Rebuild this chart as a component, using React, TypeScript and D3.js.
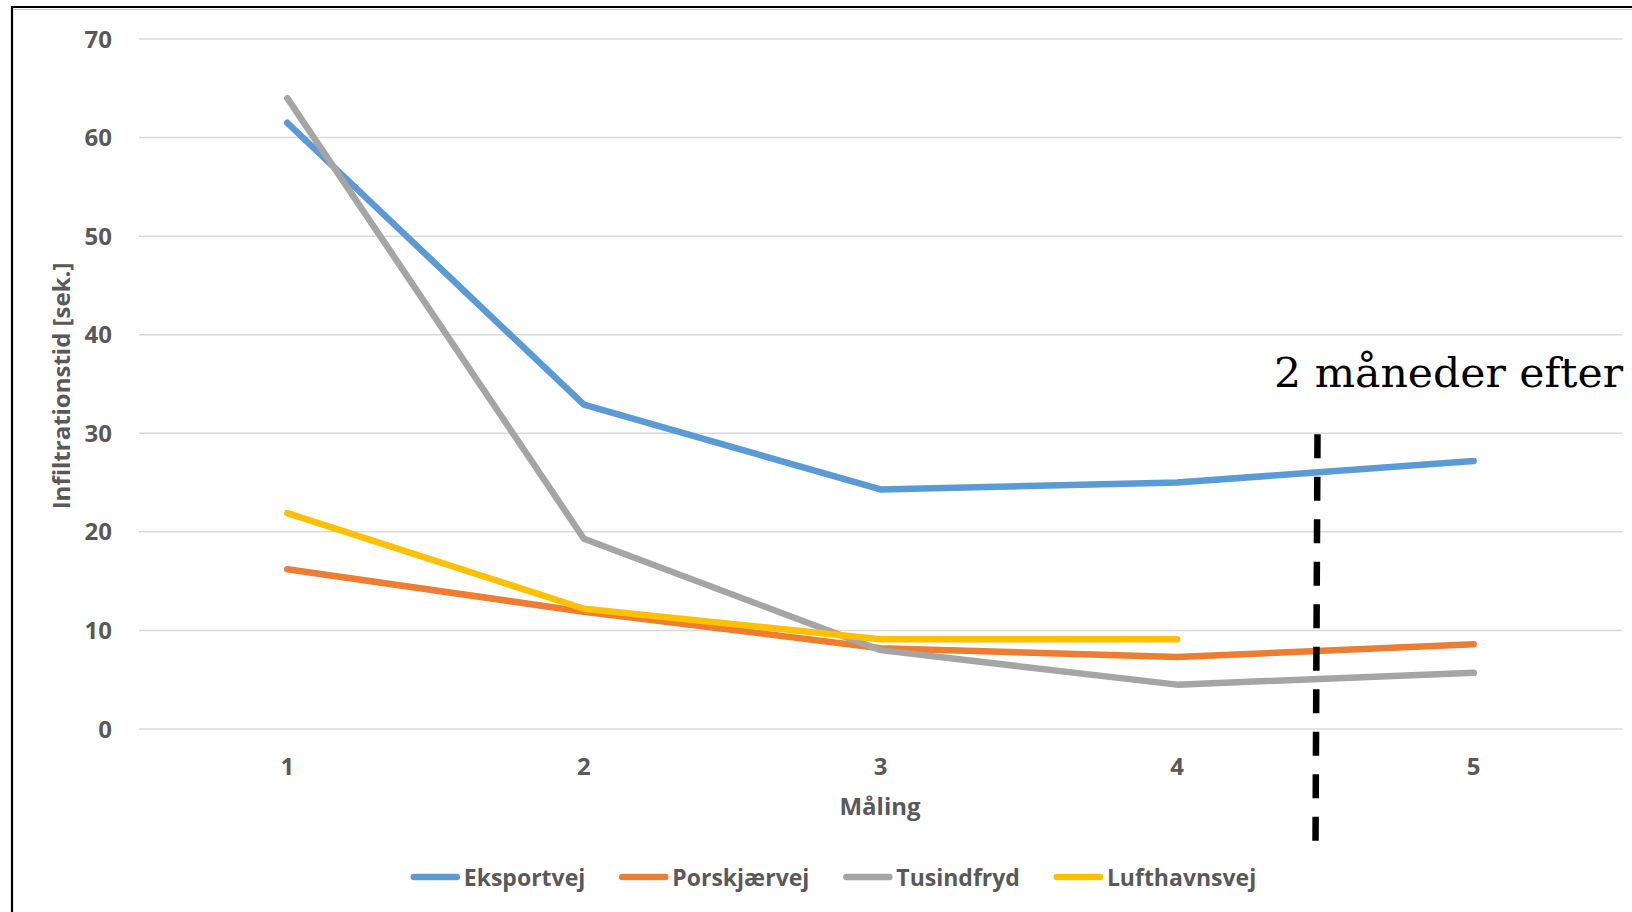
import React from "react";
import * as d3 from "d3";

const categories = [1, 2, 3, 4, 5];
const seriesNames = ["Eksportvej", "Porskjærvej", "Tusindfryd", "Lufthavnsvej"];
const eksportvej = [61.5, 32.9, 24.3, 25.0, 27.2];
const porskjaervej = [16.2, 11.9, 8.2, 7.3, 8.6];
const tusindfryd = [64.0, 19.3, 8.0, 4.5, 5.7];
const lufthavnsvej: (number | null)[] = [21.9, 12.2, 9.1, 9.1, null];
const seriesColors = ["#5B9BD5", "#ED7D31", "#A5A5A5", "#FFC000"];
const yTicks = [0, 10, 20, 30, 40, 50, 60, 70];
const yTitle = "Infiltrationstid [sek.]";
const xTitle = "Måling";
const annotationText = "2 måneder efter";
// annotation: dashed marker between measurement 4 and 5
const annotationFraction = 0.47; // fraction of step from category 4 toward 5
const annotationTopValue = 29.9;
const annotationBottomValue = -11.7;

const W = 1632;
const H = 912;
const plotLeft = 139;
const plotRight = 1622;
const plotTop = 39;
const plotBottom = 729;
const FONT = "'Open Sans', 'Noto Sans', sans-serif";
const TEXT_COLOR = "#595959";

function measure(text: string, font: string): number {
  const c = document.createElement("canvas");
  const ctx = c.getContext("2d");
  if (!ctx) return text.length * 12;
  ctx.font = font;
  return ctx.measureText(text).width;
}

export default function App() {
  const allSeries = [eksportvej, porskjaervej, tusindfryd, lufthavnsvej];

  const x = d3
    .scalePoint<number>()
    .domain(categories)
    .range([plotLeft, plotRight])
    .padding(0.5);
  const y = d3.scaleLinear().domain([0, 70]).range([plotBottom, plotTop]);

  const line = d3
    .line<number | null>()
    .defined((d) => d != null)
    .x((_, i) => x(categories[i]) as number)
    .y((d) => y(d as number));

  const annX = (x(4) as number) + annotationFraction * x.step();

  // legend layout
  const legendSize = 23;
  const legendFont = `bold ${legendSize}px 'Open Sans'`;
  const swatchLen = 49;
  const swatchGap = 4;
  const itemGap = 34;
  const widths = seriesNames.map((n) => measure(n, legendFont));
  const total =
    widths.reduce((a, b) => a + b, 0) +
    seriesNames.length * (swatchLen + swatchGap) +
    (seriesNames.length - 1) * itemGap;
  const legendCenter = 833.5;
  let cursor = legendCenter - total / 2;
  const legendItems = seriesNames.map((n, i) => {
    const start = cursor;
    cursor += swatchLen + swatchGap + widths[i] + itemGap;
    return { name: n, start, color: seriesColors[i] };
  });
  const legendY = 877;

  return (
    <svg
      width={W}
      height={H}
      style={{ position: "absolute", left: 0, top: 0, background: "#fff" }}
    >
      <rect x={0} y={0} width={W} height={H} fill="#fff" />
      {/* frame */}
      <path d={`M12,${H + 5} L12,7 L${W + 5},7`} fill="none" stroke="#000" strokeWidth={2.2} />
      <line x1={14} y1={9.5} x2={W} y2={9.5} stroke="#c8c8c8" strokeWidth={1} />

      {/* gridlines */}
      {yTicks.map((t) => (
        <line
          key={"g" + t}
          x1={plotLeft}
          x2={plotRight}
          y1={y(t)}
          y2={y(t)}
          stroke="#d9d9d9"
          strokeWidth={1.5}
        />
      ))}

      {/* y tick labels */}
      {yTicks.map((t) => (
        <text
          key={"yl" + t}
          x={112}
          y={y(t)}
          dy="0.36em"
          textAnchor="end"
          fontFamily={FONT}
          fontWeight="bold"
          fontSize={24}
          fill={TEXT_COLOR}
        >
          {t}
        </text>
      ))}

      {/* x tick labels */}
      {categories.map((c) => (
        <text
          key={"xl" + c}
          x={x(c)}
          y={775}
          textAnchor="middle"
          fontFamily={FONT}
          fontWeight="bold"
          fontSize={24}
          fill={TEXT_COLOR}
        >
          {c}
        </text>
      ))}

      {/* axis titles */}
      <text
        x={880}
        y={815}
        textAnchor="middle"
        fontFamily={FONT}
        fontWeight="bold"
        fontSize={24}
        fill={TEXT_COLOR}
      >
        {xTitle}
      </text>
      <text
        transform={`translate(70,${(plotTop + plotBottom) / 2 + 2}) rotate(-90)`}
        textAnchor="middle"
        fontFamily={FONT}
        fontWeight="bold"
        fontSize={24}
        fill={TEXT_COLOR}
      >
        {yTitle}
      </text>

      {/* series */}
      {allSeries.map((s, i) => (
        <path
          key={"s" + i}
          d={line(s) || ""}
          fill="none"
          stroke={seriesColors[i]}
          strokeWidth={6.5}
          strokeLinejoin="round"
          strokeLinecap="round"
        />
      ))}

      {/* annotation */}
      <line
        x1={annX + 1}
        x2={annX - 1}
        y1={y(annotationTopValue)}
        y2={y(annotationBottomValue)}
        stroke="#000"
        strokeWidth={6.5}
        strokeDasharray="24 18.5"
      />
      <text
        x={1274}
        y={387}
        fontFamily="'DejaVu Serif', serif"
        fontSize={41}
        textLength={349}
        lengthAdjust="spacingAndGlyphs"
        fill="#000"
      >
        {annotationText}
      </text>

      {/* legend */}
      {legendItems.map((it) => (
        <g key={"lg" + it.name}>
          <line
            x1={it.start + 3}
            x2={it.start + swatchLen - 3}
            y1={legendY}
            y2={legendY}
            stroke={it.color}
            strokeWidth={6.5}
            strokeLinecap="round"
          />
          <text
            x={it.start + swatchLen + swatchGap}
            y={886}
            fontFamily={FONT}
            fontWeight="bold"
            fontSize={legendSize}
            fill={TEXT_COLOR}
          >
            {it.name}
          </text>
        </g>
      ))}
    </svg>
  );
}
